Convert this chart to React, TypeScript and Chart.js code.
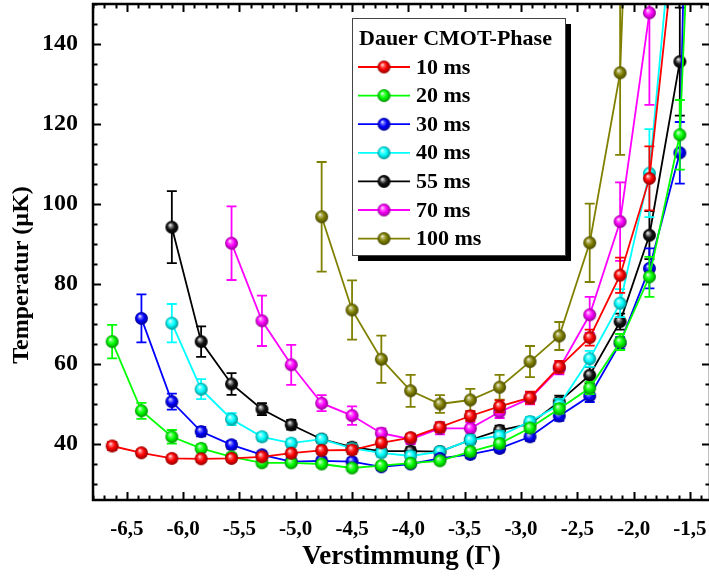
import React, { useEffect, useRef } from 'react';
import { Chart, registerables } from 'chart.js';

Chart.register(...registerables);

// Detuning (in units of Gamma) for each measurement column
const detuning = [-6.63, -6.37, -6.10, -5.84, -5.57, -5.30, -5.04, -4.77, -4.50, -4.24, -3.98, -3.72, -3.45, -3.19, -2.92, -2.66, -2.39, -2.12, -1.86, -1.59, -1.33];

const seriesLabels = ['10 ms', '20 ms', '30 ms', '40 ms', '55 ms', '70 ms', '100 ms'];
const seriesColors = ['#ff0000', '#00ff00', '#0000ff', '#00ffff', '#000000', '#ff00ff', '#808000'];

const temp10 = [39.5, 37.8, 36.4, 36.3, 36.4, 36.8, 37.7, 38.4, 38.5, 40.3, 41.6, 44.2, 47.0, 49.4, 51.6, 59.3, 66.6, 82.2, 106.4, 177, null];
const err10 = [1.0, 0.8, 0.8, 0.8, 0.8, 0.8, 0.9, 1.0, 1.0, 1.0, 1.0, 1.2, 1.2, 1.5, 1.5, 1.5, 2.0, 4.4, 8.0, 10, null];

const temp20 = [65.6, 48.3, 41.8, 38.9, 36.8, 35.3, 35.3, 35.0, 34.0, 34.6, 35.2, 35.8, 38.1, 40.1, 44.0, 48.8, 54.0, 65.5, 81.8, 117.3, 290];
const err20 = [4.2, 2.0, 1.7, 1.0, 0.8, 0.8, 0.8, 0.8, 0.8, 0.8, 0.8, 0.8, 1.0, 1.0, 1.0, 1.2, 1.5, 2.0, 5.0, 8.7, null];

const temp30 = [null, 71.4, 50.6, 43.1, 39.8, 37.3, 35.6, 35.8, 35.6, 34.3, 35.0, 36.4, 37.4, 38.9, 41.8, 47.0, 52.0, 65.2, 83.9, 112.8, 450];
const err30 = [null, 6.0, 2.0, 1.2, 1.0, 0.8, 0.8, 0.8, 0.8, 0.8, 0.8, 0.8, 1.0, 1.0, 1.0, 1.2, 1.5, 1.5, 5.0, 7.7, null];

const temp40 = [null, null, 70.2, 53.7, 46.2, 41.8, 40.2, 41.2, 38.9, 37.8, 37.0, 38.1, 41.0, 42.0, 45.6, 49.8, 61.3, 75.2, 107.7, 190, null];
const err40 = [null, null, 4.8, 2.5, 1.5, 1.0, 1.0, 1.0, 1.0, 1.0, 1.0, 1.0, 1.2, 1.2, 1.2, 1.5, 2.0, 3.5, 11.0, 15, null];

const temp55 = [null, null, 94.2, 65.6, 55.0, 48.7, 44.8, 41.2, 39.2, 38.2, 38.2, 38.1, 41.0, 43.4, 45.0, 50.6, 57.2, 70.6, 92.2, 135.6, null];
const err55 = [null, null, 9.0, 3.8, 2.7, 1.5, 1.2, 1.0, 1.0, 1.0, 1.0, 1.0, 1.0, 1.2, 1.2, 1.5, 2.0, 2.0, 6.0, 13.5, null];

const temp70 = [null, null, null, null, 90.2, 70.8, 59.8, 50.2, 47.1, 42.7, 41.2, 43.9, 43.9, 48.0, 51.4, 58.9, 72.3, 95.6, 147.8, null, null];
const err70 = [null, null, null, null, 9.2, 6.3, 5.0, 2.0, 2.3, 1.2, 1.2, 1.5, 1.5, 1.5, 1.5, 1.5, 4.5, 9.8, 23.0, null, null];

const temp100 = [null, null, null, null, null, null, null, 96.8, 73.5, 61.2, 53.3, 50.0, 51.0, 54.2, 60.6, 67.0, 90.3, 132.8, 330, null, null];
const err100 = [null, null, null, null, null, null, null, 13.7, 7.4, 5.9, 4.0, 2.2, 2.8, 3.1, 3.9, 3.5, 9.8, 20.5, null, null, null];

const temps = [temp10, temp20, temp30, temp40, temp55, temp70, temp100];
const errs = [err10, err20, err30, err40, err55, err70, err100];

const xTickValues = [-6.5, -6.0, -5.5, -5.0, -4.5, -4.0, -3.5, -3.0, -2.5, -2.0, -1.5];
const yTickValues = [40, 60, 80, 100, 120, 140];

const xTitle = 'Verstimmung (Γ)';
const yTitle = 'Temperatur (µK)';
const legendTitle = 'Dauer CMOT-Phase';

const FONT = '"Liberation Serif", "Times New Roman", serif';

function hexToRgb(h: string): number[] {
  const v = parseInt(h.slice(1), 16);
  return [(v >> 16) & 255, (v >> 8) & 255, v & 255];
}
function mix(rgb: number[], target: number[], t: number): string {
  const r = rgb.map((c, i) => Math.round(c + (target[i] - c) * t));
  return `rgb(${r[0]},${r[1]},${r[2]})`;
}

function makeSphere(color: string, r: number): HTMLCanvasElement {
  const c = document.createElement('canvas');
  const s = Math.ceil(r * 2 + 2);
  c.width = s;
  c.height = s;
  const g = c.getContext('2d')!;
  const cx = s / 2;
  const cy = s / 2;
  const rgb = hexToRgb(color);
  const isBlack = rgb[0] + rgb[1] + rgb[2] === 0;
  const grad = g.createRadialGradient(cx - r * 0.28, cy - r * 0.38, r * 0.02, cx, cy, r);
  grad.addColorStop(0, 'rgb(255,255,255)');
  grad.addColorStop(0.22, isBlack ? 'rgb(150,150,150)' : mix(rgb, [255, 255, 255], 0.45));
  grad.addColorStop(0.55, isBlack ? 'rgb(20,20,20)' : color);
  grad.addColorStop(1, isBlack ? 'rgb(0,0,0)' : mix(rgb, [0, 0, 0], 0.45));
  g.fillStyle = grad;
  g.beginPath();
  g.arc(cx, cy, r, 0, Math.PI * 2);
  g.fill();
  return c;
}

const errorBarPlugin = {
  id: 'errorBars',
  beforeDatasetDraw(chart: any, args: any) {
    const { ctx, chartArea } = chart;
    const ds = chart.data.datasets[args.index];
    const yScale = chart.scales.y;
    ctx.save();
    ctx.beginPath();
    ctx.rect(chartArea.left, chartArea.top, chartArea.right - chartArea.left, chartArea.bottom - chartArea.top);
    ctx.clip();
    ctx.strokeStyle = ds.borderColor;
    ctx.lineWidth = 1.8;
    args.meta.data.forEach((pt: any, i: number) => {
      const raw = ds.data[i];
      if (raw == null || raw.err == null) return;
      const yTop = yScale.getPixelForValue(raw.y + raw.err);
      const yBot = yScale.getPixelForValue(raw.y - raw.err);
      const x = pt.x;
      ctx.beginPath();
      ctx.moveTo(x, yTop);
      ctx.lineTo(x, yBot);
      ctx.moveTo(x - 5, yTop);
      ctx.lineTo(x + 5, yTop);
      ctx.moveTo(x - 5, yBot);
      ctx.lineTo(x + 5, yBot);
      ctx.stroke();
    });
    ctx.restore();
  },
};

function makeFramePlugin(spheres: HTMLCanvasElement[]) {
  return {
    id: 'frameTicks',
    afterDatasetsDraw(chart: any) {
      const { ctx, chartArea } = chart;
      const { left, right, top, bottom } = chartArea;
      const xs = chart.scales.x;
      const ys = chart.scales.y;
      ctx.save();
      ctx.strokeStyle = '#000';
      ctx.lineWidth = 2;
      ctx.beginPath();
      for (let k = -68; k <= -14; k++) {
        const v = k / 10;
        const px = Math.round(xs.getPixelForValue(v)) + 0.5;
        const len = k % 5 === 0 ? 8 : 4.5;
        ctx.moveTo(px, bottom);
        ctx.lineTo(px, bottom - len);
        ctx.moveTo(px, top);
        ctx.lineTo(px, top + len);
      }
      for (let v = 30; v <= 150; v += 5) {
        const py = Math.round(ys.getPixelForValue(v)) + 0.5;
        const len = v % 20 === 0 ? 8 : 4.5;
        ctx.moveTo(left, py);
        ctx.lineTo(left + len, py);
        ctx.moveTo(right, py);
        ctx.lineTo(right - len, py);
      }
      ctx.stroke();
      ctx.lineWidth = 2.5;
      ctx.strokeRect(left, top, right - left, bottom - top);
      ctx.restore();
    },
    afterDraw(chart: any) {
      const { ctx } = chart;
      ctx.save();
      ctx.translate(22, 275);
      ctx.rotate(-Math.PI / 2);
      ctx.fillStyle = '#000';
      ctx.font = `bold 24px ${FONT}`;
      ctx.textAlign = 'center';
      ctx.textBaseline = 'middle';
      ctx.fillText(yTitle, 0, 0);
      ctx.restore();

      const bx = 352, by = 18, bw = 213, bh = 237;
      ctx.save();
      ctx.fillStyle = '#000';
      ctx.fillRect(bx + 6, by + 6, bw, bh);
      ctx.fillStyle = '#fff';
      ctx.fillRect(bx, by, bw, bh);
      ctx.strokeStyle = '#444';
      ctx.lineWidth = 1;
      ctx.strokeRect(bx + 0.5, by + 0.5, bw, bh);
      ctx.fillStyle = '#000';
      ctx.font = `bold 22px ${FONT}`;
      ctx.textAlign = 'left';
      ctx.textBaseline = 'middle';
      ctx.fillText(legendTitle, bx + 7, by + 21);
      seriesLabels.forEach((lab, i) => {
        const y = 67 + i * 28.6;
        ctx.strokeStyle = seriesColors[i];
        ctx.lineWidth = 1.8;
        ctx.beginPath();
        ctx.moveTo(bx + 6, y);
        ctx.lineTo(bx + 58, y);
        ctx.stroke();
        const sp = spheres[i];
        if (sp) ctx.drawImage(sp, bx + 32 - sp.width / 2, y - sp.height / 2);
        ctx.fillStyle = '#000';
        ctx.fillText(lab, bx + 64, y + 1);
      });
      ctx.restore();
    },
  };
}

export default function App() {
  const ref = useRef<HTMLCanvasElement | null>(null);
  useEffect(() => {
    document.body.style.margin = '0';
    document.body.style.overflow = 'hidden';
    const canvas = ref.current!;
    const spheres = seriesColors.map((c) => makeSphere(c, 6.5));
    const datasets = seriesLabels.map((lab, s) => {
      const data: any[] = [];
      temps[s].forEach((v, i) => {
        if (v != null) data.push({ x: detuning[i], y: v, err: errs[s][i] });
      });
      return {
        label: lab,
        data,
        borderColor: seriesColors[s],
        backgroundColor: seriesColors[s],
        borderWidth: 1.8,
        pointStyle: spheres[s],
        pointRadius: 6.5,
        tension: 0,
        clip: 0,
      };
    });
    const chart: any = new Chart(canvas, {
      type: 'line',
      data: { datasets } as any,
      options: {
        animation: false,
        responsive: false,
        devicePixelRatio: 1,
        parsing: false as any,
        layout: { autoPadding: false, padding: { left: 0, right: 2, top: 4, bottom: 0 } },
        plugins: { legend: { display: false }, tooltip: { enabled: false } },
        events: [],
        scales: {
          x: {
            type: 'linear',
            min: -6.8,
            max: -1.322,
            grid: { display: false },
            border: { display: false },
            afterBuildTicks: (s: any) => {
              s.ticks = xTickValues.map((v) => ({ value: v }));
            },
            afterFit: (s: any) => {
              s.height = 79;
              s.paddingLeft = 0;
              s.paddingRight = 0;
              s.paddingTop = 0;
              s.paddingBottom = 0;
            },
            ticks: {
              padding: 9,
              color: '#000',
              autoSkip: false,
              maxRotation: 0,
              font: { family: FONT, size: 21, weight: 'bold' },
              callback: (v: any) => Number(v).toFixed(1).replace('.', ','),
            },
            title: {
              display: true,
              text: xTitle,
              color: '#000',
              font: { family: FONT, size: 27, weight: 'bold', lineHeight: 1.2 },
              padding: { top: 0, bottom: 6 },
            },
          },
          y: {
            type: 'linear',
            min: 26,
            max: 150,
            grid: { display: false },
            border: { display: false },
            afterBuildTicks: (s: any) => {
              s.ticks = yTickValues.map((v) => ({ value: v }));
            },
            afterFit: (s: any) => {
              s.width = 93;
              s.paddingLeft = 0;
              s.paddingRight = 0;
              s.paddingTop = 0;
              s.paddingBottom = 0;
            },
            ticks: {
              padding: 7,
              color: '#000',
              autoSkip: false,
              font: { family: FONT, size: 24, weight: 'bold' },
              callback: (v: any) => String(v),
            },
          },
        },
      } as any,
      plugins: [errorBarPlugin, makeFramePlugin(spheres)] as any,
    });
    return () => chart.destroy();
  }, []);
  return (
    <div style={{ width: 709, height: 579, overflow: 'hidden', position: 'relative' }}>
      <canvas ref={ref} width={712} height={579} style={{ display: 'block', width: 712, height: 579 }} />
    </div>
  );
}
